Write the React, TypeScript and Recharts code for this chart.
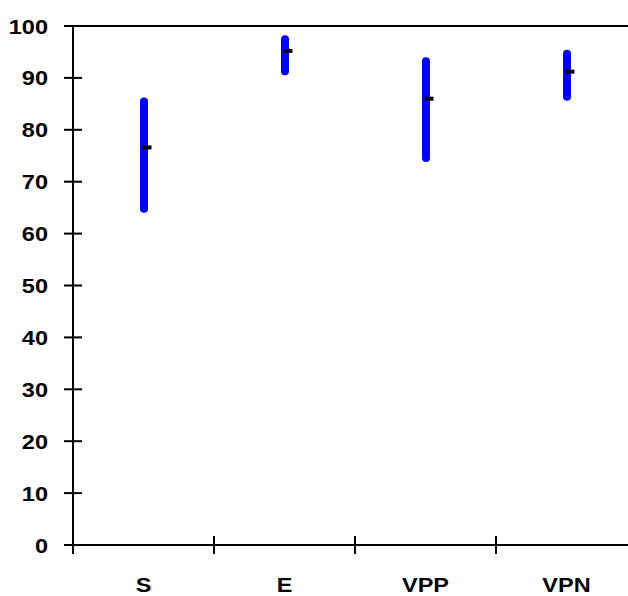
import { ComposedChart, Bar, Scatter, XAxis, YAxis, ReferenceLine } from "recharts";

const categories = ["S", "E", "VPP", "VPN"];
const lowValues = [64, 90.5, 73.8, 85.6];
const highValues = [86.2, 98.2, 94, 95.4];
const meanValues = [76.6, 95.2, 86, 91.2];
const yTicks = [0, 10, 20, 30, 40, 50, 60, 70, 80, 90, 100];

const data = categories.map((name, i) => ({
  name,
  range: [lowValues[i], highValues[i]],
  mean: meanValues[i],
}));

const CHART_W = 660;
const CHART_H = 596;
const MARGIN = { top: 26, right: 23, bottom: 0, left: 13 };
const Y_AXIS_W = 60;
const BAND = (CHART_W - MARGIN.left - MARGIN.right - Y_AXIS_W) / categories.length;
const FONT = "'Liberation Sans', Arial, sans-serif";
const FONT_SIZE = 21;
const STRETCH = 1.12; // the original lettering is a bit wider than Arial

const Y_TICK_SIZE = 9;
const Y_TICK_MARGIN = 16;
const X_TICK_SIZE = 9;
const X_TICK_MARGIN = 23;

interface TickProps {
  x?: number;
  y?: number;
  payload?: { value: string | number };
}

const stretchAt = (x: number) => `translate(${x},0) scale(${STRETCH},1) translate(${-x},0)`;

const YTick = ({ x = 0, y = 0, payload }: TickProps) => {
  const axisX = x + Y_TICK_SIZE + Y_TICK_MARGIN;
  return (
    <g>
      <line x1={axisX - 9} x2={axisX + 9} y1={y} y2={y} stroke="#000" strokeWidth={2} />
      <text
        x={x}
        y={y}
        dy="0.36em"
        textAnchor="end"
        transform={stretchAt(x)}
        fontFamily={FONT}
        fontWeight="bold"
        fontSize={FONT_SIZE}
        fill="#000"
      >
        {payload?.value}
      </text>
    </g>
  );
};

const XTick = ({ x = 0, y = 0, payload }: TickProps) => {
  const axisY = y - X_TICK_SIZE - X_TICK_MARGIN;
  const bx = x - BAND / 2;
  return (
    <g>
      <line x1={bx} x2={bx} y1={axisY - 9} y2={axisY + 9} stroke="#000" strokeWidth={2} />
      <text
        x={x}
        y={y}
        dy="0.71em"
        textAnchor="middle"
        transform={stretchAt(x)}
        fontFamily={FONT}
        fontWeight="bold"
        fontSize={FONT_SIZE}
        fill="#000"
      >
        {payload?.value}
      </text>
    </g>
  );
};

const MeanMark = ({ cx = 0, cy = 0 }: { cx?: number; cy?: number }) => (
  <rect x={cx - 1} y={cy - 2} width={9} height={4} fill="#000" />
);

export default function App() {
  return (
    <div style={{ position: "absolute", left: 0, top: 0, width: 628, height: 596, overflow: "hidden", background: "#fff" }}>
      <ComposedChart width={CHART_W} height={CHART_H} data={data} margin={MARGIN}>
        <XAxis
          dataKey="name"
          height={51}
          axisLine={{ stroke: "#000", strokeWidth: 2 }}
          tickLine={false}
          tickSize={X_TICK_SIZE}
          tickMargin={X_TICK_MARGIN}
          tick={<XTick />}
          interval={0}
        />
        <YAxis
          type="number"
          domain={[0, 100]}
          ticks={yTicks}
          width={Y_AXIS_W}
          axisLine={{ stroke: "#000", strokeWidth: 2 }}
          tickLine={false}
          tickSize={Y_TICK_SIZE}
          tickMargin={Y_TICK_MARGIN}
          tick={<YTick />}
          interval={0}
        />
        <ReferenceLine y={100} stroke="#000" strokeWidth={2} />
        <Bar dataKey="range" fill="#0000ff" barSize={8} radius={4} isAnimationActive={false} />
        <Scatter dataKey="mean" shape={<MeanMark />} isAnimationActive={false} />
      </ComposedChart>
    </div>
  );
}
